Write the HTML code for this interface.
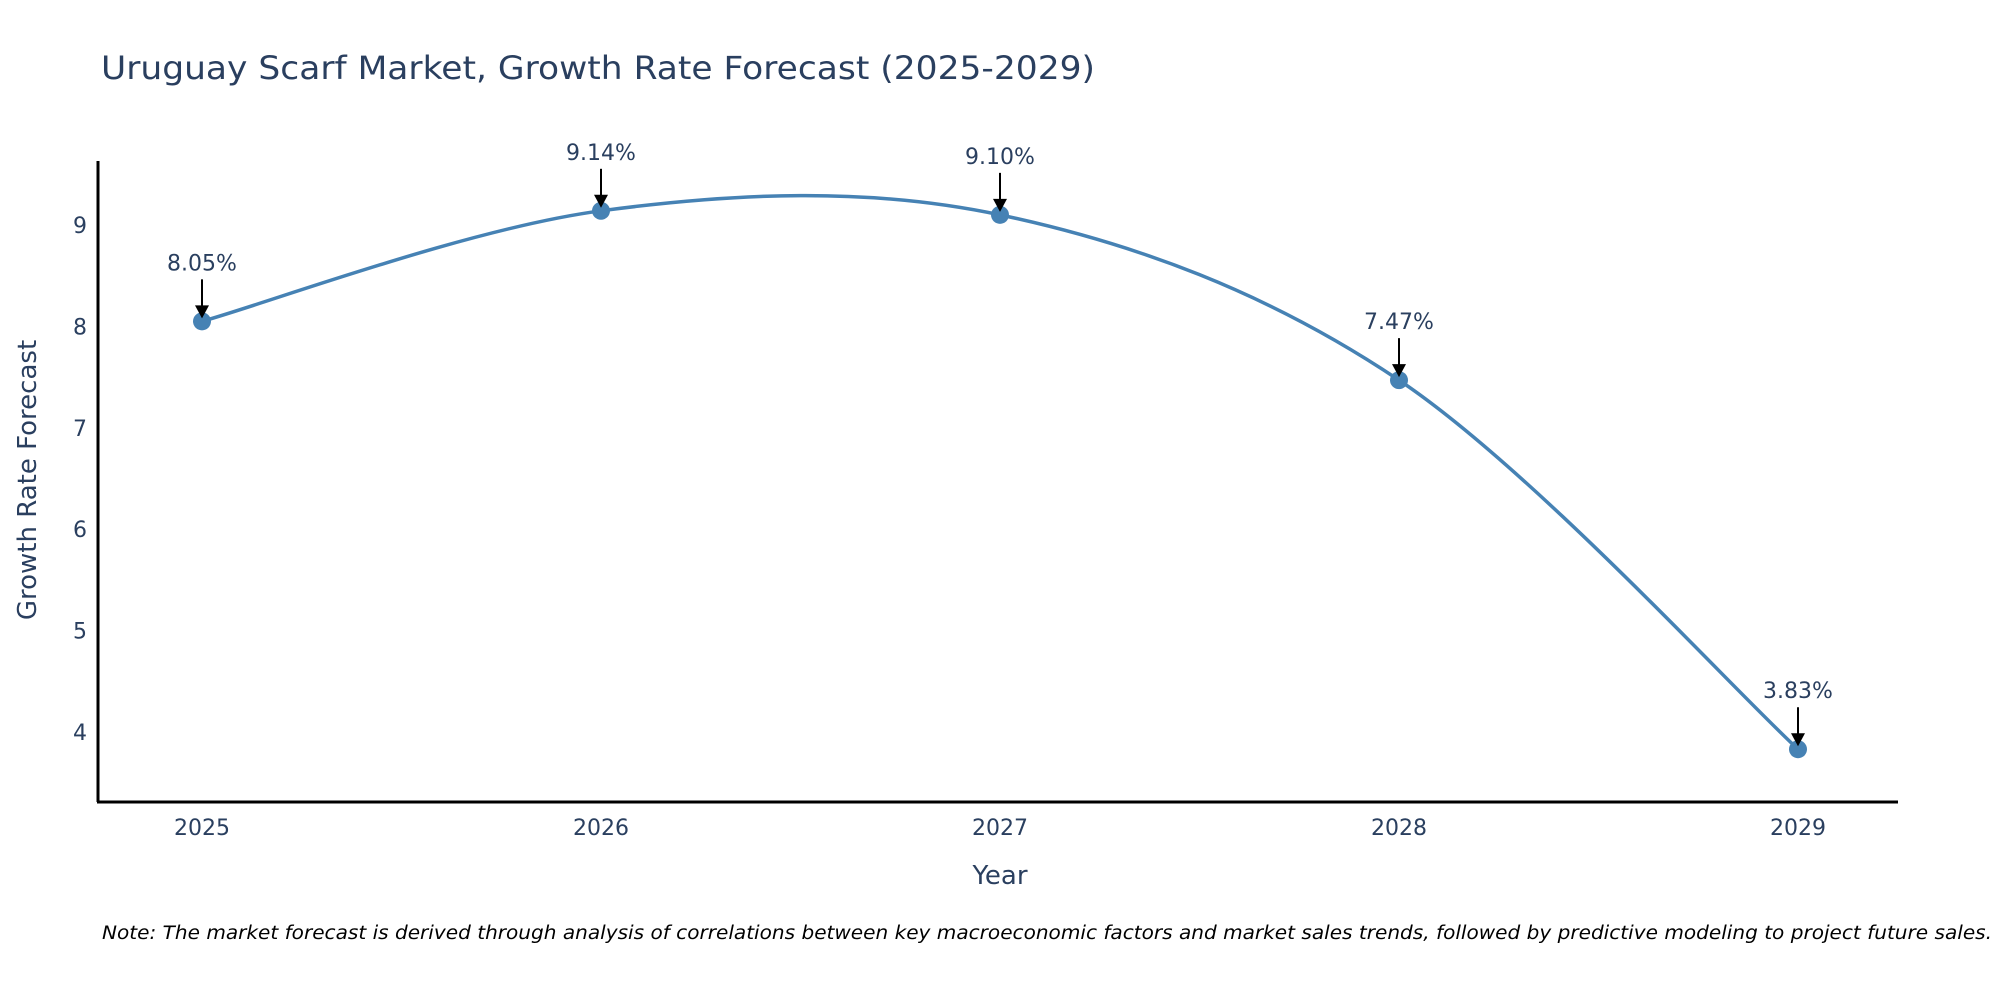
<!DOCTYPE html>
<html><head><meta charset="utf-8"><style>
body{margin:0;background:#fff;}
svg{display:block;font-family:"DejaVu Sans","Liberation Sans",sans-serif;}
</style></head><body>
<svg id="chart" width="2000" height="1000" viewBox="0 0 2000 1000">
<text x="101" y="79" font-size="32" fill="#2a3f5f" textLength="994" lengthAdjust="spacingAndGlyphs">Uruguay Scarf Market, Growth Rate Forecast (2025-2029)</text>
<g id="yticks"></g>
<g id="xticks"></g>
<path id="line" fill="none" stroke="#4682b4" stroke-width="3.5"></path>
<g id="pts"></g>
<g id="ann"></g>
<line x1="98" y1="161" x2="98" y2="802" stroke="#000" stroke-width="3"/>
<line x1="97" y1="802" x2="1898" y2="802" stroke="#000" stroke-width="3"/>
<text x="36" y="480" font-size="26" fill="#2a3f5f" text-anchor="middle" transform="rotate(-90 36 480)">Growth Rate Forecast</text>
<text x="1000" y="884" font-size="26" fill="#2a3f5f" text-anchor="middle">Year</text>
<text x="102" y="939" font-size="18.5" font-style="italic" fill="#000" textLength="1890" lengthAdjust="spacingAndGlyphs">Note: The market forecast is derived through analysis of correlations between key macroeconomic factors and market sales trends, followed by predictive modeling to project future sales.</text>
</svg>
<script>
const years = [2025, 2026, 2027, 2028, 2029];
const values = [8.05, 9.14, 9.10, 7.47, 3.83];
const yTickValues = [4, 5, 6, 7, 8, 9];
const labels = ["8.05%", "9.14%", "9.10%", "7.47%", "3.83%"];

const NS = "http://www.w3.org/2000/svg";
function xs(v){ return 202 + (v - 2025) * 399; }
function ys(v){ return 225 - (v - 9) * 101.4; }
function mk(tag, attrs, parent){
  const e = document.createElementNS(NS, tag);
  for (const k in attrs) e.setAttribute(k, attrs[k]);
  parent.appendChild(e); return e;
}
const yt = document.getElementById('yticks');
yTickValues.forEach(v => {
  const t = mk('text', {x: 87, y: ys(v) + 8, 'font-size': 22, fill: '#2a3f5f', 'text-anchor': 'end'}, yt);
  
  
  t.textContent = v;
});
const xt = document.getElementById('xticks');
years.forEach(v => {
  const t = mk('text', {x: xs(v), y: 835, 'font-size': 22, fill: '#2a3f5f', 'text-anchor': 'middle'}, xt);
  
  
  t.textContent = v;
});
const P = years.map((y, i) => [xs(y), ys(values[i])]);
let d = `M${P[0][0]},${P[0][1]}`;
for (let i = 0; i < P.length - 1; i++) {
  const p0 = P[Math.max(0, i - 1)], p1 = P[i], p2 = P[i + 1], p3 = P[Math.min(P.length - 1, i + 2)];
  const c1 = [p1[0] + (p2[0] - p0[0]) / 6, p1[1] + (p2[1] - p0[1]) / 6];
  const c2 = [p2[0] - (p3[0] - p1[0]) / 6, p2[1] - (p3[1] - p1[1]) / 6];
  d += ` C${c1[0]},${c1[1]} ${c2[0]},${c2[1]} ${p2[0]},${p2[1]}`;
}
document.getElementById('line').setAttribute('d', d);
const pts = document.getElementById('pts');
const ann = document.getElementById('ann');
P.forEach((p, i) => {
  const c = mk('circle', {cx: p[0], cy: p[1], r: 9, fill: '#4682b4'}, pts);
  
  
  const l = mk('line', {x1: p[0], y1: p[1] - 42, x2: p[0], y2: p[1] - 14, stroke: '#000', 'stroke-width': 2}, ann);
  
  
  const h = mk('polygon', {points: `${p[0]-7},${p[1]-16} ${p[0]+7},${p[1]-16} ${p[0]},${p[1]-3}`, fill: '#000'}, ann);
  
  
  const t = mk('text', {x: p[0], y: p[1] - 51, 'font-size': 22, fill: '#2a3f5f', 'text-anchor': 'middle'}, ann);
  
  
  t.textContent = labels[i];
});
</script>
</body></html>
